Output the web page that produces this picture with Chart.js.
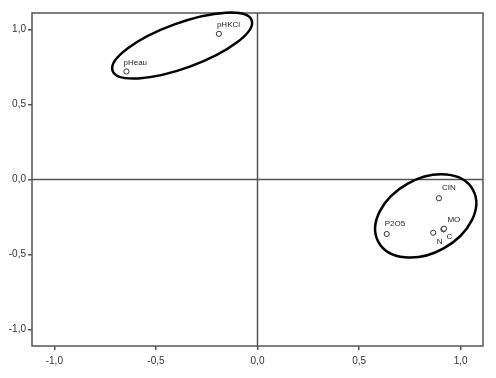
<!DOCTYPE html>
<html>
<head>
<meta charset="utf-8">
<script src="https://cdn.jsdelivr.net/npm/chart.js@4.4.1/dist/chart.umd.min.js"></script>
<style>
  html, body { margin: 0; padding: 0; background: #fff; }
  #wrap { width: 496px; height: 378px; }
</style>
</head>
<body>
<div id="wrap"><canvas id="chart" width="496" height="378"></canvas></div>
<script>
// Variables (component loadings)
const names = ['pHKCl', 'pHeau', 'CIN', 'MO', 'C', 'N', 'P2O5'];
const comp1 = [-0.19, -0.645, 0.893, 0.915, 0.918, 0.865, 0.636];
const comp2 = [0.971, 0.72, -0.125, -0.332, -0.328, -0.355, -0.363];
const tickValues = [-1.0, -0.5, 0.0, 0.5, 1.0];
const axisMin = -1.11;
const axisMax = 1.11;

// label placement around each point (px)
const labelOffsets = {
  pHKCl: [-2, -9], pHeau: [-3, -9], CIN: [3, -10], MO: [4, -10],
  C: [2.5, 8], N: [3.5, 9], P2O5: [-2, -10]
};

// groups circled on the plot: centre in data units, axes in px
const groups = [
  { cx: -0.371, cy: 0.893, rx: 74, ry: 22.5, angle: -20 },
  { cx: 0.828, cy: -0.243, rx: 54, ry: 37, angle: -29 }
];

const fmt = v => v.toFixed(1).replace('.', ',');
const axisColor = '#555';

const decorations = {
  id: 'decorations',
  beforeDatasetsDraw(chart) {
    const { ctx, chartArea: a, scales: { x, y } } = chart;
    ctx.save();
    // zero lines
    ctx.strokeStyle = axisColor;
    ctx.lineWidth = 1.5;
    const x0 = x.getPixelForValue(0);
    const y0 = y.getPixelForValue(0);
    ctx.beginPath();
    ctx.moveTo(x0, a.top); ctx.lineTo(x0, a.bottom);
    ctx.moveTo(a.left, y0); ctx.lineTo(a.right, y0);
    ctx.stroke();
    // frame
    ctx.strokeRect(a.left, a.top, a.right - a.left, a.bottom - a.top);
    ctx.restore();
  },
  afterDatasetsDraw(chart) {
    const { ctx, scales: { x, y } } = chart;
    ctx.save();
    // point labels
    ctx.font = '8px "Liberation Sans", Arial, sans-serif';
    ctx.fillStyle = '#222';
    ctx.textAlign = 'left';
    ctx.textBaseline = 'middle';
    names.forEach((n, i) => {
      const off = labelOffsets[n];
      ctx.fillText(n, x.getPixelForValue(comp1[i]) + off[0], y.getPixelForValue(comp2[i]) + off[1]);
    });
    // ellipses
    ctx.strokeStyle = '#000';
    ctx.lineWidth = 2.5;
    groups.forEach(g => {
      ctx.beginPath();
      ctx.ellipse(x.getPixelForValue(g.cx), y.getPixelForValue(g.cy), g.rx, g.ry,
        g.angle * Math.PI / 180, 0, Math.PI * 2);
      ctx.stroke();
    });
    ctx.restore();
  }
};

const tickFont = { family: '"Liberation Sans", Arial, sans-serif', size: 10 };

new Chart(document.getElementById('chart'), {
  type: 'scatter',
  data: {
    datasets: [{
      data: names.map((n, i) => ({ x: comp1[i], y: comp2[i] })),
      pointStyle: 'circle',
      pointRadius: 2.6,
      pointHoverRadius: 2.6,
      borderWidth: 1,
      borderColor: '#333',
      backgroundColor: '#fff'
    }]
  },
  options: {
    responsive: false,
    animation: false,
    events: [],
    layout: { padding: { top: 13, right: 13, left: 0, bottom: 0 } },
    plugins: { legend: { display: false }, tooltip: { enabled: false } },
    scales: {
      x: {
        type: 'linear',
        min: axisMin,
        max: axisMax,
        afterBuildTicks: s => { s.ticks = tickValues.map(v => ({ value: v })); },
        afterFit: s => { s.height = 32; },
        border: { display: false },
        grid: { drawOnChartArea: false, drawTicks: true, tickLength: 4, color: axisColor, lineWidth: 1.5 },
        ticks: { callback: v => fmt(v), color: '#333', font: tickFont, padding: 5, maxRotation: 0 }
      },
      y: {
        type: 'linear',
        min: axisMin,
        max: axisMax,
        afterBuildTicks: s => { s.ticks = tickValues.map(v => ({ value: v })); },
        afterFit: s => { s.width = 32; },
        border: { display: false },
        grid: { drawOnChartArea: false, drawTicks: true, tickLength: 4, color: axisColor, lineWidth: 1.5 },
        ticks: { callback: v => fmt(v), color: '#333', font: tickFont, padding: 2 }
      }
    }
  },
  plugins: [decorations]
});
</script>
</body>
</html>
